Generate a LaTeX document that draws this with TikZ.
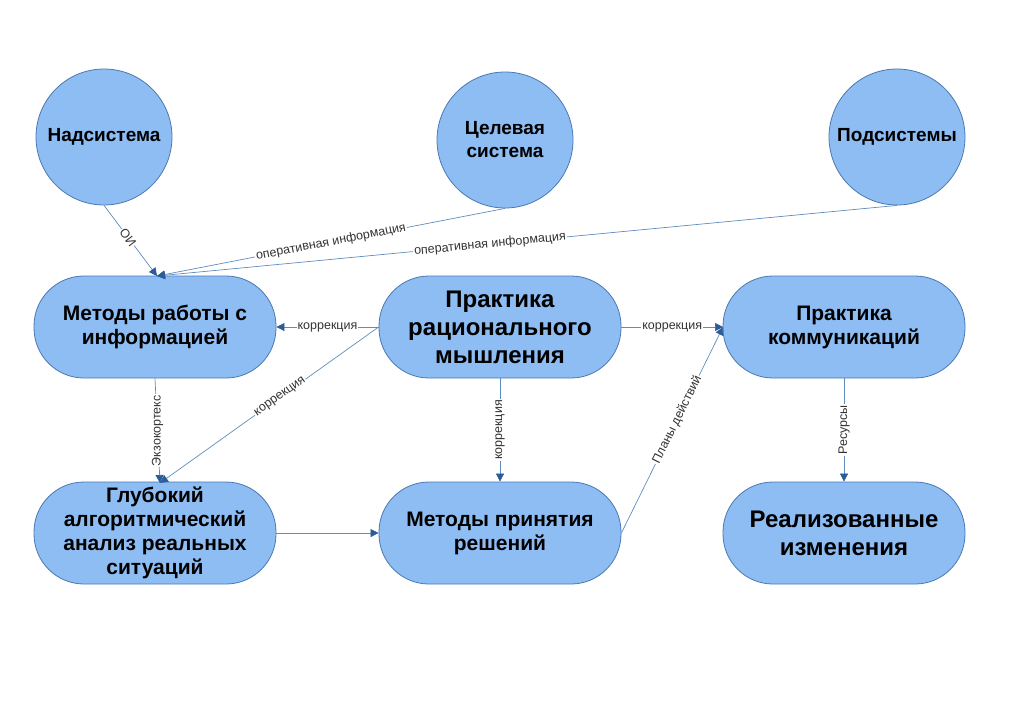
\documentclass[tikz,border=0pt]{standalone}
\usepackage{fontspec}
\setmainfont{Liberation Sans}
\usetikzlibrary{arrows.meta}
\definecolor{nfill}{HTML}{8EBDF4}
\definecolor{ndraw}{HTML}{4A78B0}
\definecolor{edge}{HTML}{5F8CC0}
\definecolor{tip}{HTML}{2C5C98}
\begin{document}
\begin{tikzpicture}[x=1pt,y=1pt,
  circ/.style={circle,fill=nfill,draw=ndraw,line width=0.8pt,minimum size=136pt,inner sep=0pt,align=center,font=\bfseries\fontsize{19}{23}\selectfont},
  rr/.style={rounded corners=50pt,fill=nfill,draw=ndraw,line width=0.8pt,minimum width=242pt,minimum height=102pt,inner sep=0pt,align=center,font=\bfseries\fontsize{21}{24}\selectfont},
  big/.style={font=\bfseries\fontsize{24}{28}\selectfont},
  con/.style={draw=edge,line width=0.7pt,-{Triangle[length=8pt,width=8pt,fill=tip,color=tip]}},
  lab/.style={fill=white,inner sep=1pt,font=\fontsize{12.5}{14}\selectfont,text=black!80,sloped},
  vlab/.style={fill=white,inner sep=1pt,font=\fontsize{12.5}{14}\selectfont,text=black!80,rotate=90}]
\useasboundingbox (0,0) rectangle (1024,-724);
\node[circ] (nad) at (104,-137) {Надсистема};
\node[circ] (cel) at (505,-140) {Целевая\\система};
\node[circ] (pod) at (897,-137) {Подсистемы};
\node[rr] (mr) at (155,-327) {Методы работы с\\информацией};
\node[rr,big] (pr) at (500,-327) {Практика\\рационального\\мышления};
\node[rr] (pk) at (844,-327) {Практика\\коммуникаций};
\node[rr] (gl) at (155,-533) {Глубокий\\алгоритмический\\анализ реальных\\ситуаций};
\node[rr] (mp) at (500,-533) {Методы принятия\\решений};
\node[rr,big] (re) at (844,-533) {Реализованные\\изменения};
\coordinate (mrt) at (157,-276);
\coordinate (glt) at (160,-483);
\coordinate (pkl) at (723,-327);
\draw[con] (nad.south) -- node[lab,pos=0.45]{ОИ} (mrt);
\draw[con] (cel.south) -- node[lab,pos=0.5]{оперативная информация} (mrt);
\draw[con] (pod.south) -- node[lab,pos=0.55]{оперативная информация} (mrt);
\draw[con] (pr.west) -- node[lab]{коррекция} (mr.east);
\draw[con] (pr.west) -- node[lab,pos=0.45]{коррекция} (glt);
\draw[con] (pr.east) -- node[lab]{коррекция} (pkl);
\draw[con] (pr.south) -- node[vlab,pos=0.5]{коррекция} (mp.north);
\draw[con] (mr.south) -- node[vlab]{Экзокортекс} (glt);
\draw[con] (gl.east) -- (mp.west);
\draw[con] (mp.east) -- node[lab,pos=0.55]{Планы действий} (pkl);
\draw[con] (pk.south) -- node[vlab]{Ресурсы} (re.north);
\end{tikzpicture}
\end{document}
